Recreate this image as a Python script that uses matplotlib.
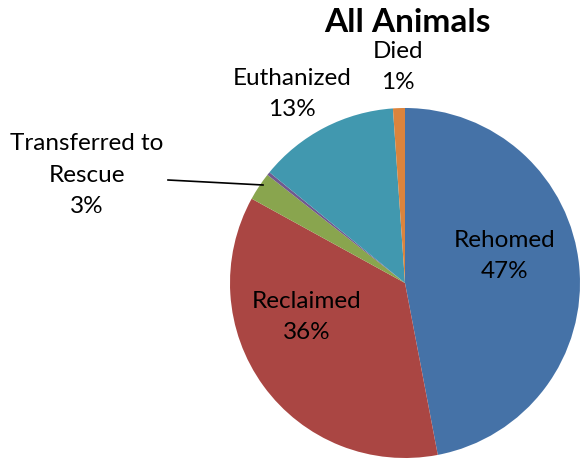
import matplotlib
matplotlib.use("Agg")
import matplotlib.pyplot as plt

# данные
categories = ["Rehomed", "Reclaimed", "Transferred to\nRescue", "Other", "Euthanized", "Died"]
shares = [47.0, 36.0, 2.6, 0.3, 13.0, 1.1]
colors = ["#4572A7", "#AA4643", "#89A54E", "#71588F", "#4198AF", "#DB843D"]

plt.rcParams['font.family'] = ['Lato', 'DejaVu Sans']

W, H = 581, 461
cx, cy, r = 405, 283, 175

fig = plt.figure(figsize=(W / 100, H / 100), dpi=100)
ax = fig.add_axes([(cx - r) / W, (H - cy - r) / H, 2 * r / W, 2 * r / H])

ax.pie(shares, colors=colors, startangle=90, counterclock=False,
       radius=1.0, wedgeprops=dict(linewidth=0))
ax.set_xlim(-1, 1)
ax.set_ylim(-1, 1)
ax.set_aspect('equal')
ax.axis('off')


def px(x, y):
    return (x - cx) / r, (cy - y) / r


# позиции подписей (в пикселях исходника)
label_pos = {
    "Rehomed": (505, 256),
    "Reclaimed": (307, 317),
    "Transferred to\nRescue": (87, 175),
    "Euthanized": (292, 94),
    "Died": (398, 67),
}

for name, val in zip(categories, shares):
    if name not in label_pos:
        continue
    x, y = px(*label_pos[name])
    ax.text(x, y, f"{name}\n{round(val)}%", ha='center', va='center',
            fontsize=17.5, linespacing=1.6, clip_on=False)

# выноска для Transferred to Rescue
x0, y0 = px(168, 180)
x1, y1 = px(263, 185)
ax.plot([x0, x1], [y0, y1], color='black', lw=1.2, clip_on=False)

fig.text(407 / W, 1 - 22 / H, "All Animals", ha='center', va='center',
         fontsize=24, fontweight='bold')

fig.savefig("out.png", dpi=100)
